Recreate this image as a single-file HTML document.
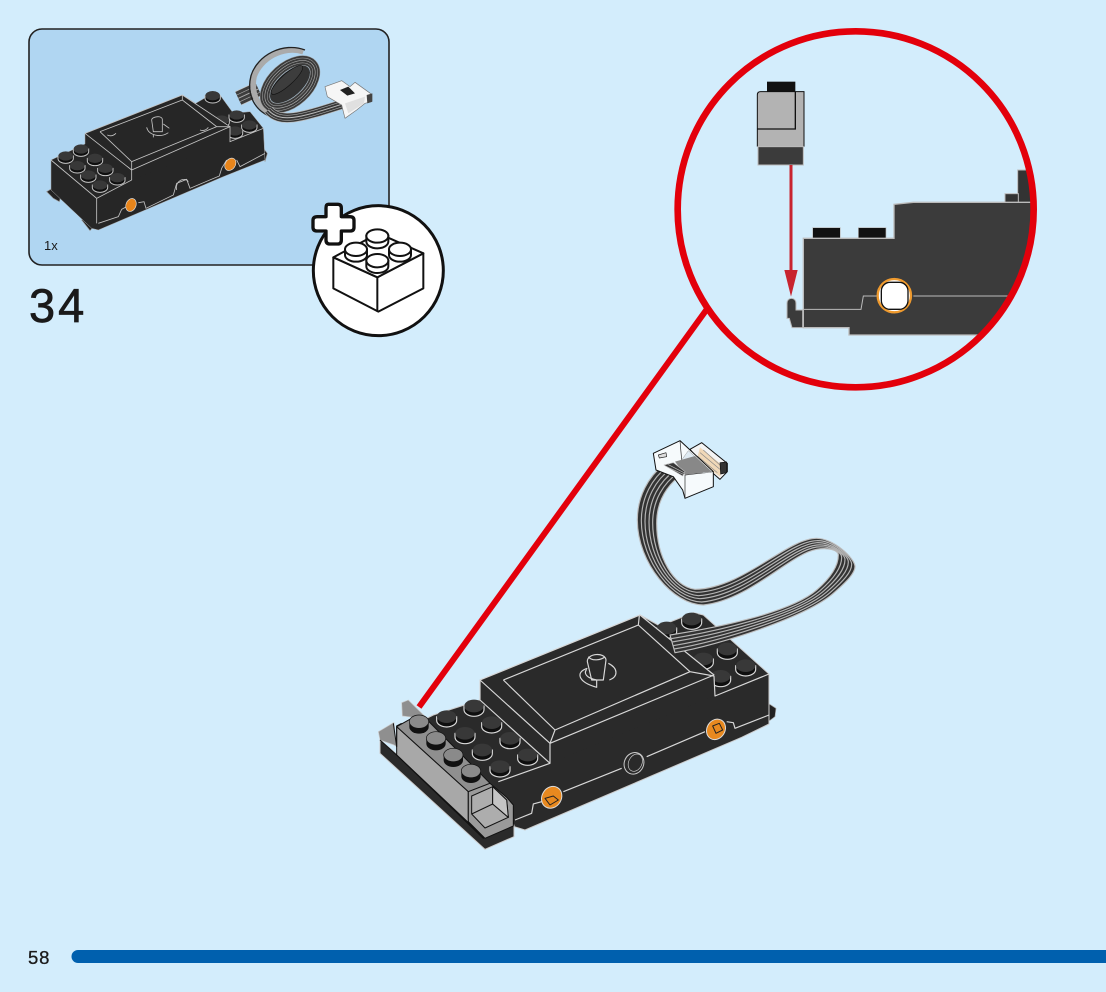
<!DOCTYPE html>
<html><head><meta charset="utf-8"><style>
html,body{margin:0;padding:0;background:#d3edfc}
svg{display:block}
text{font-family:"Liberation Sans",sans-serif;fill:#1a1a1a}
</style></head><body>
<svg width="1106" height="992" viewBox="0 0 1106 992" xmlns="http://www.w3.org/2000/svg">
<defs>
<g id="sl"><path d="M-30,-8V3A30,20 0 0 0 30,3V-8Z" fill="#0e0e0e" stroke="#d8d8d8" stroke-width="3.500"/><ellipse cy="-8" rx="29" ry="19" fill="#383838"/></g>
<g id="sg"><path d="M-29,-5V11A29,20 0 0 0 29,11V-5Z" fill="#111"/><ellipse cy="-5" rx="29" ry="20" fill="#8a8a8a" stroke="#111" stroke-width="2"/></g>
<g id="ss"><path d="M-23,-5V3A23,14 0 0 0 23,3V-5Z" fill="#0e0e0e" stroke="#c4c4c4" stroke-width="3"/><ellipse cy="-5" rx="22" ry="14" fill="#383838"/></g>
<g id="sw"><path d="M-33,0V17A33,20 0 0 0 33,17V0Z" fill="#fff" stroke="#111" stroke-width="6"/><ellipse rx="33" ry="20" fill="#fff" stroke="#111" stroke-width="6"/></g>
<clipPath id="cc"><circle cx="557" cy="568" r="530"/></clipPath>
<path id="r1" d="M-5,190L55,162"/>
<path id="r3" d="M85,225C120,265 175,250 305,208"/>
</defs>
<rect width="1106" height="992" fill="#d3edfc"/>

<!-- inset -->
<rect x="29" y="29" width="360" height="236" rx="13" fill="#b0d6f2" stroke="#222" stroke-width="1.6"/>
<text x="44" y="250" font-size="13">1x</text>
<text x="29" y="322" font-size="47" letter-spacing="3" stroke="#1a1a1a" stroke-width=".7">34</text>
<text x="28" y="964" font-size="18.5" letter-spacing=".8" stroke="#1a1a1a" stroke-width=".3">58</text>
<path d="M78,950H1106V963H78A6.500,6.500 0 0 1 78,950Z" fill="#0060ae"/>

<!-- small motor -->
<g transform="translate(20,20) scale(.33333)">
<path d="M80,515L105,500L125,520L118,545L100,535ZM185,600L205,590L225,615L210,632ZM730,385L742,400L735,425Z" fill="#222" stroke="#999" stroke-width="2"/>
<path d="M93,420L195,372L195,340L487,225L527,250L575,222L600,225L640,280L690,275L730,325L735,420L610,470L235,630L215,625L93,510Z" fill="#262626" stroke="#aaa" stroke-width="1.5"/>
<use href="#ss" x="183" y="392"/><use href="#ss" x="137" y="413"/><use href="#ss" x="225" y="420"/><use href="#ss" x="172" y="442"/><use href="#ss" x="256" y="450"/><use href="#ss" x="205" y="470"/><use href="#ss" x="292" y="478"/><use href="#ss" x="240" y="500"/>
<use href="#ss" x="578" y="232"/><use href="#ss" x="605" y="305"/><use href="#ss" x="650" y="290"/><use href="#ss" x="688" y="320"/><use href="#ss" x="645" y="338"/>
<path d="M195,340L335,450L630,320L487,225ZM335,450V480L630,365V320Z" fill="#262626"/>
<g fill="none" stroke="#c4c4c4" stroke-width="2.500">
<path d="M195,340L335,450L630,320L487,225L195,340"/>
<path d="M240,335L487,240L590,320L335,425L240,335M487,225V240M335,450V425M590,320L630,320"/>
<path d="M335,480V450M335,480L230,535L93,420M230,535V610M630,320V365L730,325"/>
<path d="M235,610L295,590L305,568L320,560M355,548L372,545L378,565L460,525L470,490L500,478L510,505L598,468L605,445L620,420M650,420L660,440L735,400"/>
<path d="M262,345Q275,352 288,340M540,330Q555,335 565,322"/>
<path d="M395,300C395,290 425,285 427,298V335H400ZM380,322C385,345 420,355 445,338M400,345L400,352M430,312L448,325"/>
<path d="M470,510C465,480 495,470 505,485"/>
</g>
<ellipse cx="333" cy="555" rx="15" ry="20" transform="rotate(22 333 555)" fill="#e8851b" stroke="#ddd" stroke-width="2"/>
<ellipse cx="631" cy="433" rx="15" ry="20" transform="rotate(35 631 433)" fill="#e8851b" stroke="#ddd" stroke-width="2"/>
</g>

<!-- small cable -->
<g transform="translate(240,35) scale(.33333)" fill="none" stroke-linecap="butt">
<g stroke="#c8c8c8" stroke-width="46"><use href="#r1"/></g>
<g stroke="#3d3d3d" stroke-width="42"><use href="#r1"/></g>
<g stroke="#aaa" stroke-width="24"><use href="#r1"/></g>
<g stroke="#3d3d3d" stroke-width="20"><use href="#r1"/></g>
<g stroke="#aaa" stroke-width="3"><use href="#r1"/></g>
<path d="M105,240C60,225 30,180 42,125C60,70 130,30 190,50" stroke="#aaa" stroke-width="17"/>
<path d="M100,248C45,230 18,180 33,122C52,60 130,20 195,45" stroke="#222" stroke-width="4"/>
<g transform="rotate(-42 150 148)">
<ellipse cx="150" cy="148" rx="90" ry="52" stroke="#999" stroke-width="30"/>
<ellipse cx="150" cy="148" rx="90" ry="52" stroke="#3a3a3a" stroke-width="27"/>
<ellipse cx="150" cy="148" rx="90" ry="52" stroke="#aaa" stroke-width="16"/>
<ellipse cx="150" cy="148" rx="90" ry="52" stroke="#3a3a3a" stroke-width="13"/>
<ellipse cx="150" cy="148" rx="90" ry="52" stroke="#aaa" stroke-width="2"/>
<ellipse cx="150" cy="148" rx="74" ry="36" fill="#333" stroke="none"/>
<ellipse cx="152" cy="132" rx="62" ry="17" fill="#3d3d3d" stroke="#111" stroke-width="2"/>
</g>
<g stroke="#bbb" stroke-width="30"><use href="#r3"/></g>
<g stroke="#383838" stroke-width="26"><use href="#r3"/></g>
<g stroke="#bbb" stroke-width="17"><use href="#r3"/></g>
<g stroke="#383838" stroke-width="14"><use href="#r3"/></g>
<g stroke="#bbb" stroke-width="3"><use href="#r3"/></g>
<path d="M255,155L305,137L330,155L345,142L395,178V200L375,205L350,225L315,250L305,210L262,185Z" fill="#f6f6f6" stroke="#777" stroke-width="2" stroke-linejoin="round"/>
<path d="M300,165L325,155L345,175L322,182Z" fill="#222"/>
<path d="M380,180L397,175V200L382,205Z" fill="#444"/>
<path d="M315,205L375,185L372,205L325,235Z" fill="#e0e0e0"/>
</g>

<!-- white brick icon -->
<g transform="translate(20,20) scale(.33333)">
<circle cx="1075" cy="752" r="195" fill="#fff" stroke="#111" stroke-width="9"/>
<path d="M940,712L1072,772L1210,700V805L1075,875L940,805Z" fill="#fff" stroke="#111" stroke-width="6" stroke-linejoin="round"/>
<path d="M940,712L1075,640L1210,700L1072,772Z" fill="#fff" stroke="#111" stroke-width="6" stroke-linejoin="round"/>
<path d="M1072,772V875" stroke="#111" stroke-width="6"/>
<use href="#sw" x="1072" y="648"/><use href="#sw" x="1008" y="688"/><use href="#sw" x="1140" y="688"/><use href="#sw" x="1072" y="722"/>
<path d="M925,553H953Q964,553 964,564V590H990Q1002,590 1002,601V622Q1002,633 990,633H964V660Q964,672 953,672H930Q918,672 918,660V633H892Q879,633 879,622V601Q879,590 892,590H918V564Q918,553 925,553Z" fill="#fff" stroke="#111" stroke-width="10" stroke-linejoin="round"/>
</g>

<!-- red leader -->
<line x1="707" y1="309" x2="419" y2="707" stroke="#e3000b" stroke-width="6"/>

<!-- zoom circle -->
<g transform="translate(670,20) scale(.33333)">
<g clip-path="url(#cc)">
<rect x="428" y="623" width="83" height="32" fill="#111" stroke="#bbb" stroke-width="2"/>
<rect x="565" y="623" width="83" height="32" fill="#111" stroke="#bbb" stroke-width="2"/>
<rect x="1043" y="450" width="60" height="100" fill="#333" stroke="#bbb" stroke-width="3"/>
<rect x="1005" y="521" width="40" height="27" fill="#333" stroke="#bbb" stroke-width="3"/>
<path d="M400,655H672V553L730,547H1120V945H537V923H400Z" fill="#3b3b3b" stroke="#bbb" stroke-width="4"/>
<path d="M400,868H573L580,828H620M730,828H1120" fill="none" stroke="#bbb" stroke-width="3"/>
<circle cx="673" cy="827" r="50" fill="#fff" stroke="#ef9a2e" stroke-width="7"/>
<rect x="634" y="787" width="80" height="81" rx="26" fill="#fff" stroke="#111" stroke-width="4"/>
</g>
<circle cx="557" cy="568" r="534" fill="none" stroke="#e3000b" stroke-width="20"/>
<path d="M351,870V850C351,830 378,830 378,850V870H398V923H366L358,895H351Z" fill="#3b3b3b" stroke="#bbb" stroke-width="3"/>
<rect x="291" y="185" width="85" height="31" fill="#111"/>
<rect x="262" y="215" width="140" height="165" fill="#b3b3b3"/>
<path d="M262,380V225Q262,215 272,215H402V380" fill="none" stroke="#111" stroke-width="3"/>
<path d="M376,215V327H262" fill="none" stroke="#111" stroke-width="4"/>
<rect x="264" y="380" width="136" height="55" fill="#3b3b3b" stroke="#bbb" stroke-width="3"/>
<line x1="363" y1="435" x2="363" y2="770" stroke="#c8242f" stroke-width="9"/>
<path d="M343,750H383L363,830Z" fill="#c8242f"/>
</g>

<!-- main motor -->
<g transform="translate(370,600) scale(.33333)" stroke-linejoin="round">
<path d="M1195,310L1218,325L1215,350L1195,365Z" fill="#222" stroke="#aaa" stroke-width="2"/>
<path d="M190,345L330,300L330,240L810,45L870,78L970,38L1000,45L1197,222L1197,372L1115,412L465,690L432,680L300,560L140,370Z" fill="#2a2a2a" stroke="#ccc" stroke-width="3"/>
<use href="#sl" x="230" y="358"/><use href="#sl" x="312" y="326"/><use href="#sl" x="285" y="408"/><use href="#sl" x="365" y="376"/><use href="#sl" x="337" y="458"/><use href="#sl" x="420" y="423"/><use href="#sl" x="390" y="508"/><use href="#sl" x="473" y="473"/>
<use href="#sl" x="965" y="65"/><use href="#sl" x="890" y="92"/><use href="#sl" x="1072" y="155"/><use href="#sl" x="1127" y="205"/><use href="#sl" x="1000" y="185"/><use href="#sl" x="1052" y="237"/>
<path d="M330,240L810,45L1032,225V288L540,490V430Z" fill="#2a2a2a"/>
<path d="M330,300L540,490H545L330,240Z" fill="#2a2a2a"/>
<g fill="none" stroke="#d8d8d8" stroke-width="3.500">
<path d="M330,240L540,430L1032,225L810,45L330,240"/>
<path d="M400,240L805,75L960,215L555,390L400,240M808,47L805,75M540,430L555,390M960,215L1032,228"/>
<path d="M330,240V300L540,490V430M540,490L385,545M1032,228L1035,288L1197,222"/>
<path d="M435,660L485,640L490,612L515,605M580,575L755,505M830,470L1005,395M1070,365L1090,368L1095,385L1197,345"/>
<path d="M652,185C650,160 705,155 708,180L700,240H665ZM652,205C618,215 620,245 680,262V240C650,235 640,220 650,208M715,190C745,205 745,230 718,240M655,170C665,185 695,180 705,170"/>
</g>
<ellipse cx="792" cy="490" rx="29" ry="33" transform="rotate(25 792 490)" fill="#2a2a2a" stroke="#ccc" stroke-width="3"/>
<ellipse cx="796" cy="488" rx="20" ry="27" transform="rotate(25 796 488)" fill="none" stroke="#ccc" stroke-width="2"/>
<ellipse cx="545" cy="592" rx="29" ry="34" transform="rotate(32 545 592)" fill="#e8891f" stroke="#ddd" stroke-width="3"/>
<ellipse cx="1038" cy="388" rx="27" ry="32" transform="rotate(32 1038 388)" fill="#e8891f" stroke="#ddd" stroke-width="3"/>
<path d="M525,595L550,588L565,600L540,615ZM1028,378L1048,370L1058,390L1038,400Z" fill="none" stroke="#222" stroke-width="3"/>
</g>

<!-- main cable -->
<g transform="translate(620,430) scale(.33333)" stroke-linejoin="round">
<path d="M165,668C300,645 560,560 640,490C680,455 705,430 705,410C705,385 640,325 590,325C500,325 370,475 225,478C160,470 110,380 110,280C110,215 140,165 190,130L130,105C85,140 52,200 52,270C52,400 160,525 250,525C390,510 510,372 590,358C625,352 655,360 655,375C655,410 630,445 590,480C510,550 280,595 150,615Z" fill="#333" stroke="#bdbdbd" stroke-width="3.500"/>
<g fill="none" stroke="#b5b5b5" stroke-width="3.500">
<path d="M162,657C296,635 550,558 630,488C670,453 695,426 695,403C695,380 637,330 590,332C502,334 374,482 230,487C160,481 98,384 98,278C98,212 129,160 178,125"/>
<path d="M159,647C292,625 540,556 620,486C660,451 685,422 685,396C685,375 634,336 590,338C504,344 378,489 235,497C160,492 87,388 87,276C87,209 118,155 166,120"/>
<path d="M156,636C288,615 530,554 610,484C650,449 675,418 675,389C675,370 631,341 590,345C506,353 382,496 240,506C160,503 75,392 75,274C75,206 107,150 154,115"/>
<path d="M153,626C284,605 520,552 600,482C640,447 665,414 665,382C665,365 628,347 590,351C508,362 386,503 245,516C160,514 64,396 64,272C64,203 96,145 142,110"/>
</g>
</g>

<!-- grey brick -->
<g transform="translate(370,690) scale(.33333)" stroke-linejoin="round">
<path d="M95,38L115,30L168,82L130,82L97,78Z" fill="#8f8f8f" stroke="#ccc" stroke-width="2"/>
<path d="M25,125L72,97L80,170L72,165L30,150Z" fill="#8f8f8f" stroke="#ccc" stroke-width="2"/>
<path d="M30,150L30,190L345,478L432,440V405L345,415Z" fill="#2a2a2a" stroke="#ccc" stroke-width="3"/>
<path d="M80,110L295,305V395L340,440L80,195Z" fill="#a8a8a8" stroke="#111" stroke-width="3"/>
<path d="M30,150L80,195L340,445L345,415L295,385V305" fill="none" stroke="#111" stroke-width="3"/>
<path d="M80,110L125,85L160,78L360,280L295,305Z" fill="#8f8f8f" stroke="#111" stroke-width="3"/>
<path d="M295,305L360,280L410,322L430,345V408L345,445L295,395Z" fill="#9a9a9a" stroke="#111" stroke-width="3"/>
<path d="M305,318L368,290L410,330L415,382L345,414L305,372Z" fill="#adadad" stroke="#111" stroke-width="3"/>
<path d="M368,290V342L305,372M368,342L415,382" fill="none" stroke="#111" stroke-width="3"/>
<path d="M368,290L410,330L415,382L368,342Z" fill="#c4c4c4" stroke="#111" stroke-width="3"/>
<path d="M70,100L80,170L80,108L95,100" fill="none" stroke="#111" stroke-width="3"/>
<use href="#sg" x="147" y="100"/><use href="#sg" x="198" y="150"/><use href="#sg" x="250" y="200"/><use href="#sg" x="303" y="248"/>
</g>

<!-- connector -->
<g transform="translate(640,430) scale(.33333)" stroke-linejoin="round">
<path d="M150,58L185,38L262,100V125L240,148L185,100Z" fill="#f4f4f4" stroke="#111" stroke-width="3"/>
<path d="M180,52L250,108L240,140L170,90Z" fill="#f0d8b8"/>
<path d="M190,60L245,110M180,68L240,118M172,78L232,128" stroke="#888" stroke-width="2" fill="none"/>
<path d="M240,98L260,96V128L242,132Z" fill="#333" stroke="#111" stroke-width="2"/>
<path d="M40,70L120,32L220,125L220,170L135,205L128,180L100,140L48,120Z" fill="#f6fafc" stroke="#111" stroke-width="3"/>
<path d="M120,32L125,90M135,135L135,205M135,135L220,125" stroke="#222" stroke-width="2" fill="none"/>
<path d="M145,62L215,125L190,130L125,90Z" fill="#dfeaf2" stroke="#999" stroke-width="1.500"/>
<path d="M105,95L165,78L215,125L135,135Z" fill="#888"/>
<path d="M55,75L78,68L80,80L58,84Z" fill="#ddd" stroke="#222" stroke-width="2"/>
<path d="M72,105L100,98L135,125L128,138Z" fill="#363636" stroke="#bbb" stroke-width="2"/>
<path d="M76,108L130,133M85,104L132,128" stroke="#bbb" stroke-width="2"/>
</g>
</svg>
</body></html>
